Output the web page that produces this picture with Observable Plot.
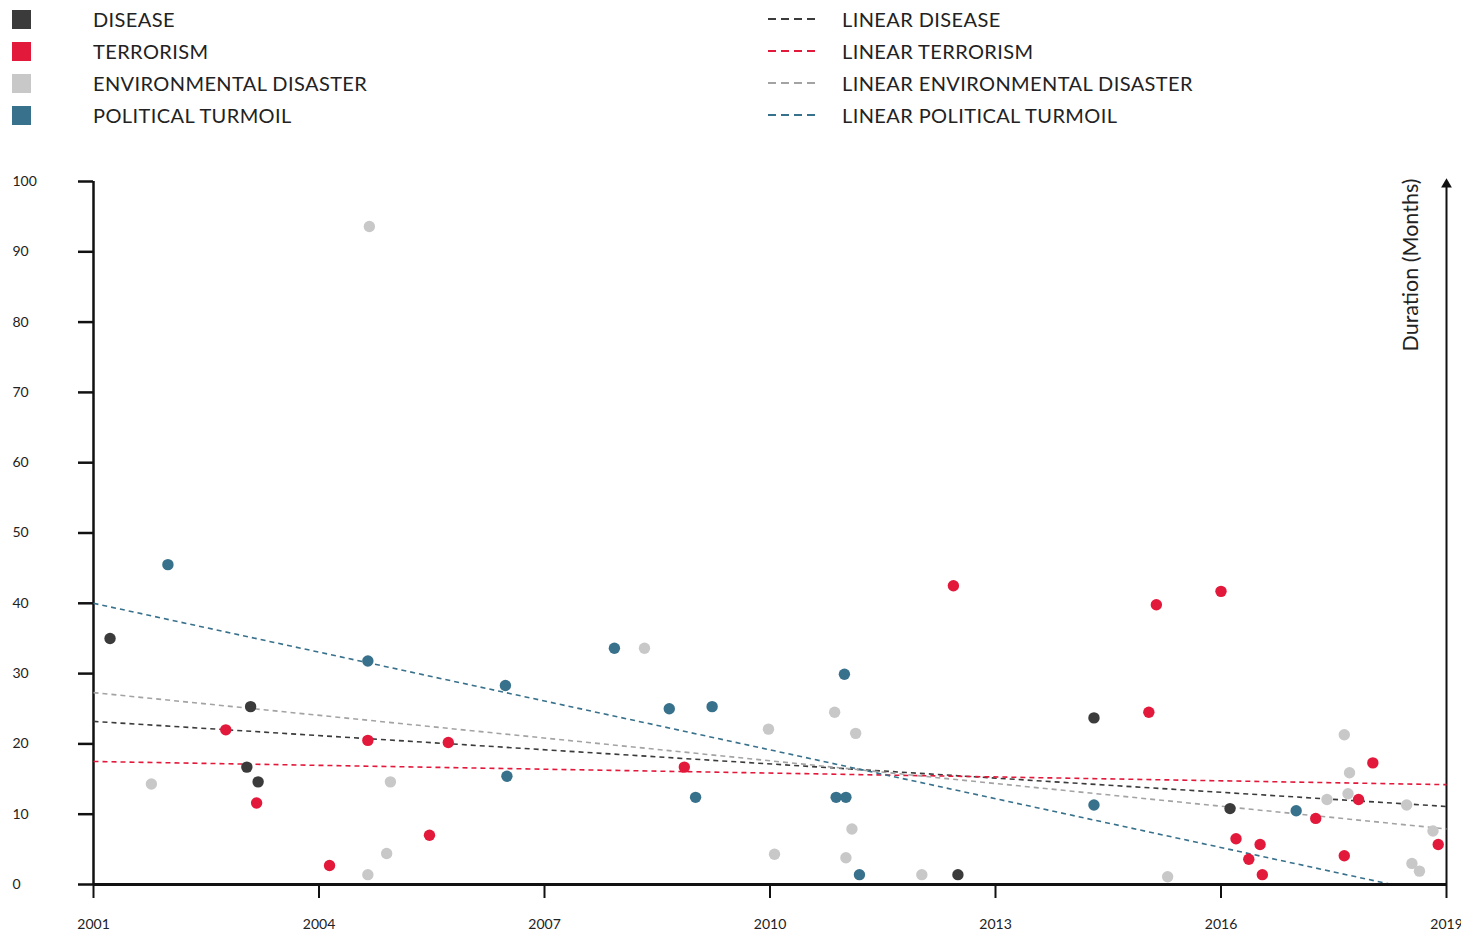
<!DOCTYPE html>
<html>
<head>
<meta charset="utf-8">
<script src="https://cdn.jsdelivr.net/npm/d3@7"></script>
<script src="https://cdn.jsdelivr.net/npm/@observablehq/plot@0.6"></script>
<style>
  body { margin: 0; background: #fff; font-family: Lato, "Open Sans", sans-serif; color: #222; }
  #legend { position: relative; width: 1461px; height: 140px; }
  .sw { position: absolute; width: 19px; height: 19px; }
  .lbl { position: absolute; font-size: 20px; line-height: 20px; white-space: nowrap; color: #222; letter-spacing: 0.4px; }
  .dash { position: absolute; }
  #chart svg { display: block; }
</style>
</head>
<body>
<div id="legend"></div>
<div id="chart"></div>
<script>
// ---- Data ----
const categories = ["Disease", "Terrorism", "Environmental Disaster", "Political Turmoil"];
const legendLabels = ["DISEASE", "TERRORISM", "ENVIRONMENTAL DISASTER", "POLITICAL TURMOIL"];
const trendLabels = ["LINEAR DISEASE", "LINEAR TERRORISM", "LINEAR ENVIRONMENTAL DISASTER", "LINEAR POLITICAL TURMOIL"];
const dotColors = ["#3b3b3b", "#e3193b", "#c8c8c8", "#38718c"];
const trendColors = ["#3b3b3b", "#e3193b", "#a3a3a3", "#38718c"];

const diseaseYears = [2001.22, 2003.09, 2003.04, 2003.19, 2014.31, 2016.12, 2012.50];
const diseaseMonths = [35.0, 25.3, 16.7, 14.6, 23.7, 10.8, 1.4];

const terrorismYears = [2002.76, 2003.17, 2004.14, 2004.65, 2005.47, 2005.72, 2008.86, 2012.44, 2015.14, 2015.04, 2016.00, 2016.20, 2016.37, 2016.52, 2016.55, 2017.26, 2017.64, 2017.83, 2018.02, 2018.89];
const terrorismMonths = [22.0, 11.6, 2.7, 20.5, 7.0, 20.2, 16.7, 42.5, 39.8, 24.5, 41.7, 6.5, 3.6, 5.7, 1.4, 9.4, 4.1, 12.1, 17.3, 5.7];

const environmentYears = [2001.77, 2004.67, 2004.65, 2004.90, 2004.95, 2008.33, 2009.98, 2010.06, 2010.86, 2011.14, 2011.09, 2011.01, 2012.02, 2015.29, 2017.64, 2017.71, 2017.69, 2017.41, 2018.47, 2018.54, 2018.64, 2018.82];
const environmentMonths = [14.3, 93.6, 1.4, 4.4, 14.6, 33.6, 22.1, 4.3, 24.5, 21.5, 7.9, 3.8, 1.4, 1.1, 21.3, 15.9, 12.9, 12.1, 11.3, 3.0, 1.9, 7.6];

const politicalYears = [2001.99, 2004.65, 2006.48, 2006.50, 2007.93, 2008.66, 2009.01, 2009.23, 2010.99, 2010.88, 2011.01, 2011.19, 2014.31, 2017.00];
const politicalMonths = [45.5, 31.8, 28.3, 15.4, 33.6, 25.0, 12.4, 25.3, 29.9, 12.4, 12.4, 1.4, 11.3, 10.5];

// linear trend lines (start / end)
const trendStartYear = [2001, 2001, 2001, 2001];
const trendStartMonths = [23.2, 17.5, 27.3, 40.0];
const trendEndYear = [2019, 2019, 2019, 2018.27];
const trendEndMonths = [11.1, 14.2, 7.9, 0];

const xDomain = [2001, 2019];
const yDomain = [0, 100];
const xTicks = [2001, 2004, 2007, 2010, 2013, 2016, 2019];
const yTicks = [0, 10, 20, 30, 40, 50, 60, 70, 80, 90, 100];
const yLabel = "Duration (Months)";

// ---- Build tables ----
const series = [
  [diseaseYears, diseaseMonths],
  [terrorismYears, terrorismMonths],
  [environmentYears, environmentMonths],
  [politicalYears, politicalMonths]
];
const points = series.flatMap(([xs, ys], i) => xs.map((x, j) => ({cat: categories[i], year: x, months: ys[j]})));
const trends = categories.map((c, i) => ({cat: c, x1: trendStartYear[i], y1: trendStartMonths[i], x2: trendEndYear[i], y2: trendEndMonths[i]}));

// ---- Legend ----
const legend = document.getElementById("legend");
const rowY = [19, 51, 83, 115];
categories.forEach((c, i) => {
  const sw = document.createElement("div");
  sw.className = "sw";
  sw.style.left = "12px";
  sw.style.top = (rowY[i] - 9.5) + "px";
  sw.style.background = dotColors[i];
  legend.appendChild(sw);
  const t = document.createElement("div");
  t.className = "lbl";
  t.style.left = "93px";
  t.style.top = (rowY[i] - 10) + "px";
  t.textContent = legendLabels[i];
  legend.appendChild(t);

  const ns = "http://www.w3.org/2000/svg";
  const s = document.createElementNS(ns, "svg");
  s.setAttribute("width", 50); s.setAttribute("height", 6);
  s.setAttribute("class", "dash");
  s.style.left = "767px"; s.style.top = (rowY[i] - 3) + "px";
  const l = document.createElementNS(ns, "line");
  l.setAttribute("x1", 1); l.setAttribute("x2", 49); l.setAttribute("y1", 3); l.setAttribute("y2", 3);
  l.setAttribute("stroke", trendColors[i]); l.setAttribute("stroke-width", 2);
  l.setAttribute("stroke-dasharray", "8 5");
  s.appendChild(l);
  legend.appendChild(s);
  const t2 = document.createElement("div");
  t2.className = "lbl";
  t2.style.left = "842px";
  t2.style.top = (rowY[i] - 10) + "px";
  t2.textContent = trendLabels[i];
  legend.appendChild(t2);
});

// ---- Chart ----
const chart = Plot.plot({
  width: 1461,
  height: 796,
  marginLeft: 93,
  marginRight: 15,
  marginTop: 41,
  marginBottom: 52,
  style: {fontFamily: "Lato, 'Open Sans', sans-serif", color: "#222", background: "#fff"},
  x: {domain: xDomain},
  y: {domain: yDomain},
  color: {domain: categories, range: dotColors},
  marks: [
    Plot.axisY({ticks: yTicks, tickSize: 15, tickPadding: 66, textAnchor: "start", strokeWidth: 2.5, fontSize: 14, label: null, stroke: "#111"}),
    Plot.axisX({ticks: xTicks, tickSize: 14, tickPadding: 21, tickFormat: "d", strokeWidth: 2, fontSize: 14, label: null, stroke: "#111"}),
    Plot.ruleX([xDomain[0]], {strokeWidth: 2.5, stroke: "#111"}),
    Plot.ruleX([xDomain[1]], {y1: yDomain[0], y2: yDomain[1], strokeWidth: 2, stroke: "#111"}),
    Plot.dot([xDomain[1]], {x: d => d, y: yDomain[1], symbol: "triangle", r: 4, fill: "#111", stroke: "none", dy: 3}),
    Plot.text([yLabel], {x: xDomain[1], y: yDomain[1], rotate: -90, textAnchor: "end", dx: -35, dy: -3, fontSize: 21.5, fill: "#222"}),
    Plot.link(trends, {x1: "x1", y1: "y1", x2: "x2", y2: "y2", stroke: (d) => trendColors[categories.indexOf(d.cat)], strokeWidth: 1.6, strokeDasharray: "5 4"}),
    Plot.dot(points, {x: "year", y: "months", fill: "cat", r: 5.7, stroke: "none"}),
    Plot.ruleY([yDomain[0]], {strokeWidth: 3, stroke: "#111"})
  ]
});
document.getElementById("chart").appendChild(chart);
</script>
</body>
</html>
